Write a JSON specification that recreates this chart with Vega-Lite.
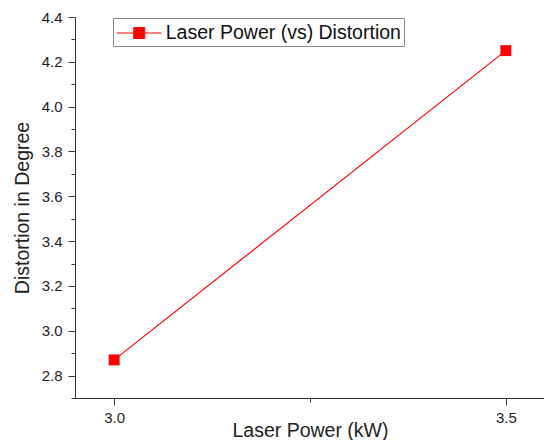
{
  "$schema": "https://vega.github.io/schema/vega-lite/v6.json",
  "width": 470,
  "height": 381,
  "autosize": "none",
  "padding": {"left": 75, "top": 17, "right": 0, "bottom": 42},
  "background": "white",
  "config": {"view": {"stroke": null}, "font": "Liberation Sans"},
  "data": {"values": [
    {"power": 3.0, "distortion": 2.87, "series": "Laser Power (vs) Distortion"},
    {"power": 3.5, "distortion": 4.25, "series": "Laser Power (vs) Distortion"}
  ]},
  "layer": [
    {
      "mark": {"type": "line", "color": "#ff0000", "strokeWidth": 1.2},
      "encoding": {
        "x": {"field": "power", "type": "quantitative",
          "scale": {"domain": [2.95, 3.55], "nice": false, "zero": false},
          "axis": {"orient": "bottom", "values": [3.0, 3.5], "format": ".1f", "grid": false,
            "tickSize": 7, "tickColor": "#333", "domainColor": "#333", "labelFontSize": 15, "labelColor": "#222",
            "labelPadding": 5, "title": "Laser Power (kW)", "titleFontSize": 19.5, "titleFontWeight": "normal",
            "titleColor": "#222", "titlePadding": -4}},
        "y": {"field": "distortion", "type": "quantitative",
          "scale": {"domain": [2.7, 4.4], "nice": false, "zero": false},
          "axis": {"orient": "left", "values": [2.8, 3.0, 3.2, 3.4, 3.6, 3.8, 4.0, 4.2, 4.4], "format": ".1f", "grid": false,
            "tickSize": 7, "tickColor": "#333", "domainColor": "#333", "labelFontSize": 15, "labelColor": "#222",
            "labelPadding": 6, "title": "Distortion in Degree", "titleFontSize": 19.5, "titleFontWeight": "normal",
            "titleColor": "#222", "titlePadding": 9}},
        "color": {"field": "series", "type": "nominal", "scale": {"range": ["#ff0000"]},
          "legend": {"orient": "none", "legendX": 38, "legendY": 1, "title": null,
            "strokeColor": "#888", "fillColor": "white", "padding": 3,
            "labelFontSize": 19.5, "labelColor": "#111", "labelLimit": 400,
            "symbolType": "M-2,0H2M-0.49,-0.49H0.49V0.49H-0.49Z",
            "symbolSize": 506, "symbolStrokeWidth": 1, "symbolOffset": 11.25, "labelOffset": 14.5,
            "symbolFillColor": "#ff0000", "symbolStrokeColor": "#ff0000"}}
      }
    },
    {
      "mark": {"type": "point", "shape": "square", "filled": true, "size": 120, "color": "#ff0000", "opacity": 1},
      "encoding": {
        "x": {"field": "power", "type": "quantitative",
          "scale": {"domain": [2.95, 3.55], "nice": false, "zero": false},
          "axis": {"orient": "bottom", "values": [3.25], "labels": false, "domain": false, "grid": false,
            "tickSize": 4, "tickColor": "#333", "title": null}},
        "y": {"field": "distortion", "type": "quantitative",
          "scale": {"domain": [2.7, 4.4], "nice": false, "zero": false},
          "axis": {"orient": "left", "values": [2.7, 2.9, 3.1, 3.3, 3.5, 3.7, 3.9, 4.1, 4.3], "labels": false, "domain": false, "grid": false,
            "tickSize": 4, "tickColor": "#333", "title": null}}
      }
    }
  ],
  "resolve": {"axis": {"x": "independent", "y": "independent"}}
}
